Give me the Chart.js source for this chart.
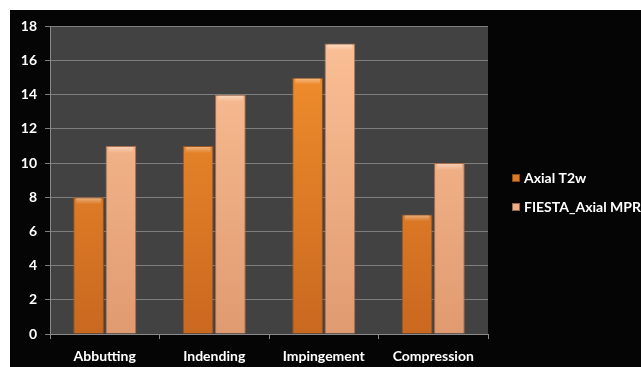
<!DOCTYPE html>
<html>
<head>
<meta charset="utf-8">
<script src="https://cdn.jsdelivr.net/npm/chart.js@4"></script>
<style>
  html, body { margin: 0; padding: 0; background: #fff; }
  #wrap { position: absolute; left: 10px; top: 10px; width: 631px; height: 357px; background: #050505; }
</style>
</head>
<body>
<div id="wrap"><canvas id="barChart" width="631" height="357"></canvas></div>
<script>
// chart data
const categories = ['Abbutting', 'Indending', 'Impingement', 'Compression'];
const axialT2w = [8, 11, 15, 7];
const fiestaMpr = [11, 14, 17, 10];
const seriesNames = ['Axial T2w', 'FIESTA_Axial MPR'];
const yTicks = [0, 2, 4, 6, 8, 10, 12, 14, 16, 18];

const labelFont = { family: 'Lato, "Open Sans", sans-serif', size: 14, weight: 'bold' };

// vertical gradient for the bars
function barFill(top, bottom) {
    return function(ctx) {
        const area = ctx.chart.chartArea;
        if (!area) return top;
        const g = ctx.chart.ctx.createLinearGradient(0, area.top, 0, area.bottom);
        g.addColorStop(0, top);
        g.addColorStop(1, bottom);
        return g;
    };
}

// grey plot background
const plotBg = {
    id: 'plotBg',
    beforeDraw(chart) {
        const { ctx, chartArea: a } = chart;
        ctx.save();
        ctx.fillStyle = '#424242';
        ctx.fillRect(a.left, a.top, a.right - a.left, a.bottom - a.top);
        ctx.restore();
    }
};

// light cap on top of each bar
const barCap = {
    id: 'barCap',
    afterDatasetsDraw(chart) {
        const ctx = chart.ctx;
        ctx.save();
        chart.data.datasets.forEach((ds, i) => {
            chart.getDatasetMeta(i).data.forEach(bar => {
                const w = bar.width;
                const x = bar.x - w / 2;
                const g = ctx.createLinearGradient(0, bar.y, 0, bar.y + 7);
                g.addColorStop(0, 'rgba(255,255,255,0.45)');
                g.addColorStop(1, 'rgba(255,255,255,0)');
                ctx.fillStyle = g;
                ctx.fillRect(x + 3, bar.y + 1, w - 6, 7);
            });
        });
        ctx.restore();
    }
};

// legend drawn at the right side
const sideLegend = {
    id: 'sideLegend',
    afterDraw(chart) {
        const ctx = chart.ctx;
        const x = 502, y0 = 168, step = 29;
        ctx.save();
        ctx.font = 'bold 14px ' + labelFont.family;
        ctx.textBaseline = 'middle';
        chart.data.datasets.forEach((ds, i) => {
            const y = y0 + i * step;
            ctx.fillStyle = ds.legendColor;
            ctx.fillRect(x, y - 4, 8, 8);
            ctx.strokeStyle = 'rgba(0,0,0,0.4)';
            ctx.strokeRect(x + 0.5, y - 3.5, 7, 7);
            ctx.fillStyle = '#ffffff';
            ctx.textAlign = 'left';
            ctx.fillText(ds.label, x + 12, y);
        });
        ctx.restore();
    }
};

document.addEventListener('DOMContentLoaded', function() {
    const ctx = document.getElementById('barChart').getContext('2d');
    new Chart(ctx, {
        type: 'bar',
        data: {
            labels: categories,
            datasets: [{
                label: seriesNames[0],
                data: axialT2w,
                backgroundColor: barFill('#f5922f', '#c9681f'),
                borderColor: '#9a5420',
                borderWidth: 1,
                legendColor: '#e07a22',
                barPercentage: 0.95,
                categoryPercentage: 0.59
            }, {
                label: seriesNames[1],
                data: fiestaMpr,
                backgroundColor: barFill('#fcc197', '#e09a70'),
                borderColor: '#a87050',
                borderWidth: 1,
                legendColor: '#f0ae84',
                barPercentage: 0.95,
                categoryPercentage: 0.59
            }]
        },
        options: {
            responsive: false,
            animation: false,
            layout: { padding: { top: 13, right: 153, left: 0, bottom: 0 } },
            plugins: { legend: { display: false }, tooltip: { enabled: false } },
            scales: {
                x: {
                    afterFit(scale) { scale.height = 33; },
                    grid: { offset: true, drawOnChartArea: false, color: '#8a8a8a', tickLength: 5 },
                    border: { color: '#8a8a8a' },
                    ticks: { color: '#ffffff', font: labelFont, padding: 9 }
                },
                y: {
                    min: 0,
                    max: 18,
                    afterBuildTicks(scale) { scale.ticks = yTicks.map(v => ({ value: v })); },
                    afterFit(scale) { scale.width = 40; },
                    grid: { color: '#7e7e7e', tickLength: 5 },
                    border: { color: '#8a8a8a' },
                    ticks: { color: '#ffffff', font: labelFont, padding: 8 }
                }
            }
        },
        plugins: [plotBg, barCap, sideLegend]
    });
});
</script>
</body>
</html>
